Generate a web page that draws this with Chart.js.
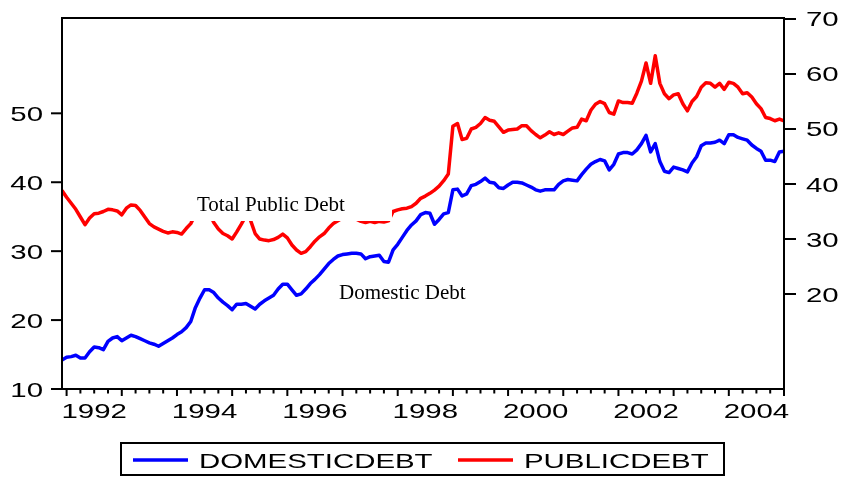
<!DOCTYPE html>
<html>
<head>
<meta charset="utf-8">
<title>Domestic and public debt</title>
<script src="https://cdn.jsdelivr.net/npm/chart.js"></script>
<style>
  html, body { margin: 0; padding: 0; background: #fff; }
</style>
</head>
<body>
<canvas id="mycanvas" width="842" height="477"></canvas>
<script>
// monthly observations, 1991M12 .. 2005M01
var firstObs = 1991 + 11 / 12;
var lastObs = 2005;

var domesticDebt = [
  14.2, 14.6, 14.7, 14.9, 14.5, 14.5, 15.4, 16.1, 16.0, 15.7, 16.9,
  17.4, 17.6, 17.0, 17.4, 17.8, 17.6, 17.3, 17.0, 16.7, 16.5,
  16.2, 16.6, 17.0, 17.4, 17.9, 18.3, 18.9, 19.8, 21.8, 23.2,
  24.4, 24.4, 24.0, 23.2, 22.6, 22.1, 21.5, 22.3, 22.3, 22.4,
  22.0, 21.6, 22.3, 22.8, 23.2, 23.6, 24.5, 25.2, 25.2, 24.4,
  23.6, 23.8, 24.5, 25.3, 25.9, 26.6, 27.4, 28.2, 28.8, 29.3,
  29.5, 29.6, 29.7, 29.7, 29.6, 28.9, 29.2, 29.3, 29.4, 28.5,
  28.4, 30.2, 31.0, 32.0, 33.0, 33.8, 34.4, 35.3, 35.6, 35.5,
  33.9, 34.6, 35.4, 35.6, 38.9, 39.0, 38.0, 38.3, 39.5, 39.7,
  40.1, 40.6, 40.0, 39.9, 39.2, 39.1, 39.6, 40.0, 40.0, 39.9,
  39.6, 39.3, 38.9, 38.7, 38.9, 38.9, 38.9, 39.7, 40.2, 40.4,
  40.3, 40.2, 41.1, 41.9, 42.6, 43.0, 43.3, 43.1, 41.8, 42.6,
  44.1, 44.3, 44.3, 44.1, 44.7, 45.6, 46.8, 44.4, 45.6, 43.0,
  41.6, 41.4, 42.2, 42.0, 41.8, 41.5, 42.8, 43.7, 45.3, 45.7,
  45.7, 45.8, 46.1, 45.6, 46.9, 46.9, 46.5, 46.3, 46.1, 45.4,
  44.9, 44.5, 43.2, 43.2, 43.0, 44.4, 44.5
];

var publicDebt = [
  38.8, 37.6, 36.5, 35.4, 34.0, 32.6, 33.8, 34.6, 34.7, 35.0, 35.4,
  35.3, 35.1, 34.4, 35.6, 36.2, 36.1, 35.2, 34.0, 32.8, 32.2,
  31.8, 31.4, 31.1, 31.3, 31.2, 30.9, 31.9, 32.8, 34.5, 35.8,
  36.0, 34.8, 33.0, 31.8, 31.0, 30.6, 30.0, 31.3, 32.7, 34.2,
  33.4, 31.0, 30.0, 29.8, 29.7, 29.9, 30.3, 30.9, 30.2, 28.9,
  28.0, 27.4, 27.7, 28.6, 29.6, 30.4, 31.0, 32.0, 32.8, 33.3,
  33.8, 34.2, 34.0, 33.6, 33.2, 33.0, 33.2, 33.0, 33.2, 33.1,
  33.3, 35.0, 35.3, 35.5, 35.6, 35.9, 36.5, 37.4, 37.8, 38.3,
  38.9, 39.6, 40.6, 41.8, 50.5, 51.0, 48.1, 48.3, 50.0, 50.3,
  51.0, 52.1, 51.6, 51.4, 50.4, 49.4, 49.8, 49.9, 50.0, 50.6,
  50.6, 49.7, 49.0, 48.4, 48.9, 49.5, 49.0, 49.3, 49.0, 49.6,
  50.2, 50.3, 51.8, 51.5, 53.4, 54.5, 55.0, 54.6, 53.0, 52.7,
  55.1, 54.8, 54.8, 54.7, 56.5, 58.7, 62.0, 58.3, 63.3, 58.3,
  56.4, 55.5, 56.2, 56.4, 54.6, 53.3, 55.0, 55.9, 57.6, 58.4,
  58.3, 57.6, 58.3, 57.2, 58.5, 58.3, 57.6, 56.4, 56.6, 55.8,
  54.6, 53.7, 52.1, 51.9, 51.5, 51.8, 51.5
];

var leftTicks = [10, 20, 30, 40, 50];
var rightTicks = [20, 30, 40, 50, 60, 70];
var yearLabels = ['1992', '1994', '1996', '1998', '2000', '2002', '2004'];
var seriesNames = ['DOMESTICDEBT', 'PUBLICDEBT'];
var seriesColors = ['#0000ff', '#ff0000'];
var notes = ['Total Public Debt', 'Domestic Debt'];

function toPoints(values) {
  var pts = [];
  for (var i = 0; i < values.length; i++) {
    pts.push({ x: firstObs + i / 12, y: values[i] });
  }
  return pts;
}

// quarter tick marks along the date axis
var quarterTicks = [];
for (var q = 1992; q <= lastObs + 0.001; q += 0.25) quarterTicks.push(q);

var SANS = '"Liberation Sans", Arial, sans-serif';
var SERIF = '"Liberation Serif", "Times New Roman", serif';

// eviews draws its sans text wide, so stretch it sideways
function wideText(ctx, txt, x, y, align) {
  ctx.save();
  ctx.translate(x, y);
  ctx.scale(1.4, 1);
  ctx.textAlign = align;
  ctx.textBaseline = 'alphabetic';
  ctx.fillText(txt, 0, 0);
  ctx.restore();
}

var evPlugin = {
  id: 'evAxes',
  afterDraw: function(chart) {
    var ctx = chart.ctx;
    var a = chart.chartArea;
    var sx = chart.scales.x, sy = chart.scales.y, sy1 = chart.scales.y1;

    ctx.save();

    // text notes sit on an opaque box
    ctx.fillStyle = '#fff';
    ctx.fillRect(190, 186, 202, 35);
    ctx.fillStyle = '#000';
    ctx.font = '21px ' + SERIF;
    ctx.textAlign = 'left';
    ctx.textBaseline = 'alphabetic';
    ctx.fillText(notes[0], 197, 211);
    ctx.fillText(notes[1], 339, 299);

    // frame
    ctx.strokeStyle = '#000';
    ctx.lineWidth = 2;
    ctx.strokeRect(a.left, a.top, a.right - a.left, a.bottom - a.top);

    ctx.font = '21px ' + SANS;
    ctx.fillStyle = '#000';

    // left axis
    sy.ticks.forEach(function(t) {
      var py = sy.getPixelForValue(t.value);
      ctx.beginPath();
      ctx.moveTo(a.left - 11, py);
      ctx.lineTo(a.left, py);
      ctx.stroke();
      wideText(ctx, String(t.value), a.left - 19, py + 7.5, 'right');
    });

    // right axis
    sy1.ticks.forEach(function(t) {
      var py = sy1.getPixelForValue(t.value);
      ctx.beginPath();
      ctx.moveTo(a.right, py);
      ctx.lineTo(a.right + 12, py);
      ctx.stroke();
      wideText(ctx, String(t.value), a.right + 22, py + 7.5, 'left');
    });

    // date axis
    sx.ticks.forEach(function(t) {
      var px = sx.getPixelForValue(t.value);
      var major = Math.abs(t.value - Math.round(t.value)) < 0.001;
      ctx.beginPath();
      ctx.moveTo(px, a.bottom);
      ctx.lineTo(px, a.bottom + (major ? 7 : 4.5));
      ctx.stroke();
    });
    yearLabels.forEach(function(lbl) {
      var px = sx.getPixelForValue(Number(lbl) + 0.5);
      wideText(ctx, lbl, px, 418, 'center');
    });

    // legend
    ctx.lineWidth = 2;
    ctx.strokeRect(121, 443, 603, 32);
    var lx = [133, 458];
    for (var i = 0; i < seriesNames.length; i++) {
      ctx.strokeStyle = seriesColors[i];
      ctx.lineWidth = 3.5;
      ctx.beginPath();
      ctx.moveTo(lx[i], 460);
      ctx.lineTo(lx[i] + 55, 460);
      ctx.stroke();
      ctx.fillStyle = '#000';
      wideText(ctx, seriesNames[i], lx[i] + 66, 468, 'left');
    }

    ctx.restore();
  }
};

var ctx = document.getElementById('mycanvas');

var chart = new Chart(ctx, {
  type: 'line',
  data: {
    datasets: [
      {
        label: seriesNames[0],
        data: toPoints(domesticDebt),
        yAxisID: 'y',
        borderColor: seriesColors[0],
        borderWidth: 3.5,
        borderJoinStyle: 'round',
        pointRadius: 0,
        tension: 0
      },
      {
        label: seriesNames[1],
        data: toPoints(publicDebt),
        yAxisID: 'y1',
        borderColor: seriesColors[1],
        borderWidth: 3.5,
        borderJoinStyle: 'round',
        pointRadius: 0,
        tension: 0
      }
    ]
  },
  options: {
    responsive: false,
    animation: false,
    devicePixelRatio: 1,
    layout: { padding: { top: 18, left: 0, right: 0, bottom: 0 } },
    plugins: {
      legend: { display: false },
      tooltip: { enabled: false }
    },
    scales: {
      x: {
        type: 'linear',
        min: firstObs,
        max: lastObs,
        grid: { display: false },
        border: { display: false },
        ticks: { display: false },
        afterBuildTicks: function(s) {
          s.ticks = quarterTicks.map(function(v) { return { value: v }; });
        },
        afterFit: function(s) { s.height = 88; }
      },
      y: {
        position: 'left',
        min: 10,
        max: 63.83,
        grid: { display: false },
        border: { display: false },
        ticks: { display: false },
        afterBuildTicks: function(s) {
          s.ticks = leftTicks.map(function(v) { return { value: v }; });
        },
        afterFit: function(s) { s.width = 62; }
      },
      y1: {
        position: 'right',
        min: 2.73,
        max: 70.18,
        grid: { display: false },
        border: { display: false },
        ticks: { display: false },
        afterBuildTicks: function(s) {
          s.ticks = rightTicks.map(function(v) { return { value: v }; });
        },
        afterFit: function(s) { s.width = 58; }
      }
    }
  },
  plugins: [evPlugin]
});
</script>
</body>
</html>
